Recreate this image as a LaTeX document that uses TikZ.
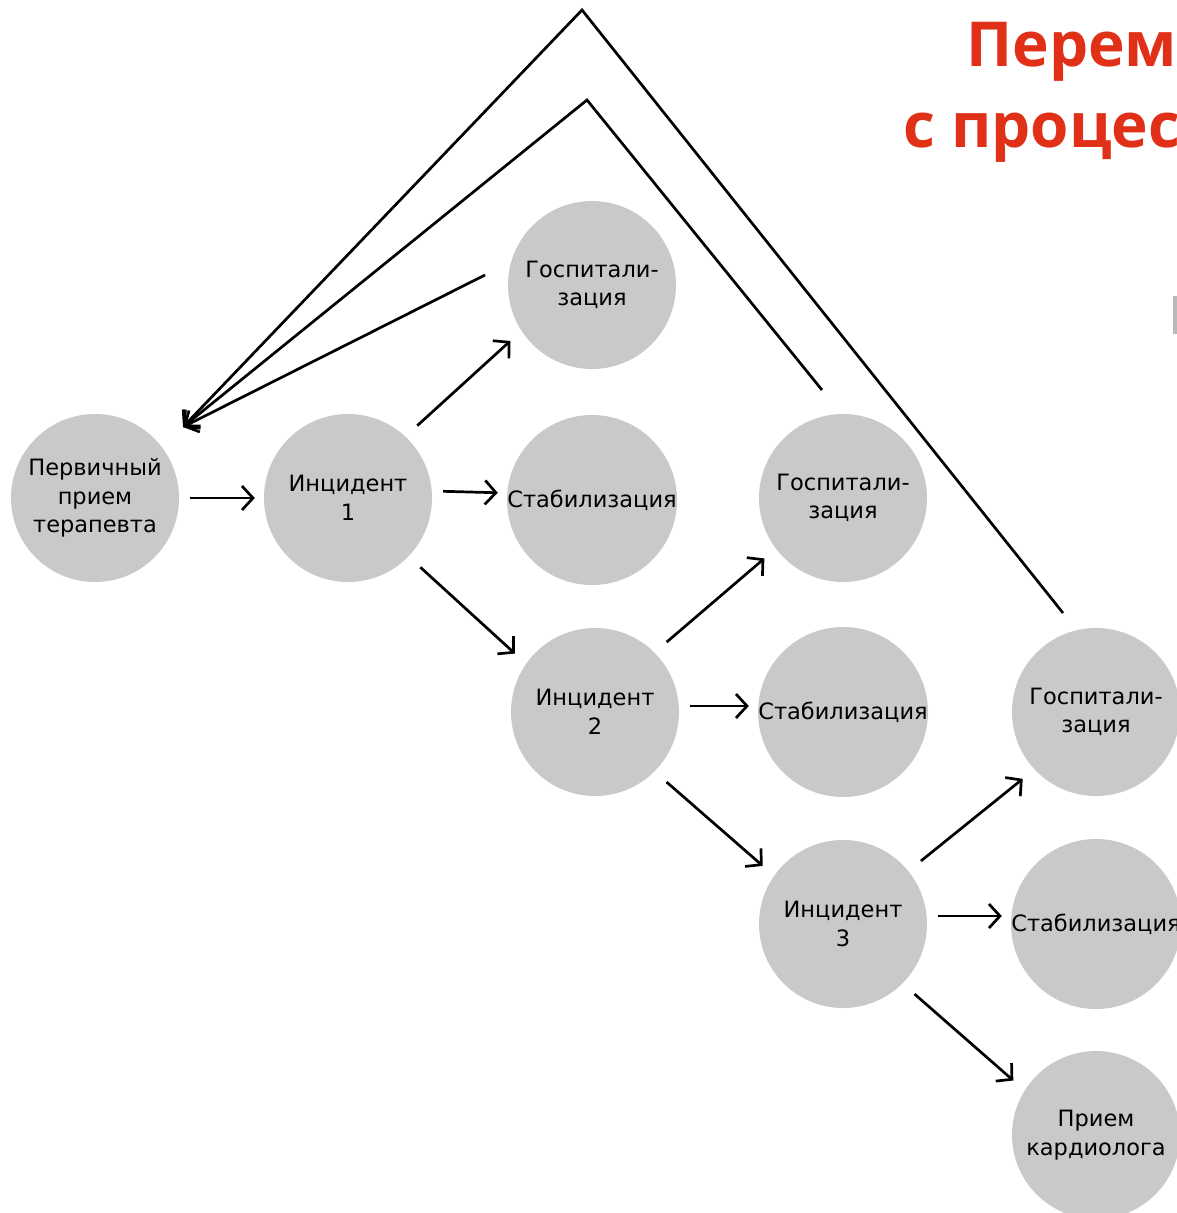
\documentclass[tikz,border=0pt]{standalone}
\usepackage{fontspec}
\setmainfont{DejaVu Sans}
\newfontfamily\titlefont{Open Sans}
\usepackage{tikz}
\usetikzlibrary{arrows.meta,positioning}
\definecolor{stagegray}{RGB}{201,201,201}
\definecolor{titlered}{RGB}{224,48,24}

\tikzset{
  stage/.style={circle, fill=stagegray, minimum size=168pt, inner sep=0pt,
    align=center, font=\fontsize{22.5}{28.5}\selectfont},
  flow/.style={line width=2.7pt, -{Straight Barb[length=11pt,width=24pt,line width=2.7pt]},
    shorten <=11pt, shorten >=9pt},
  slant/.style={flow, shorten <=16pt, shorten >=15pt},
  loopback/.style={line width=2.7pt, line join=miter,
    -{Straight Barb[length=11pt,width=24pt,line width=2.7pt]}}
}

\begin{document}
\begin{tikzpicture}[x=1pt,y=-1pt]
\useasboundingbox (0,0) rectangle (1177,1213);
\clip (0,0) rectangle (1177,1213);

% title (cut off at the page edge)
\node[anchor=base west, inner sep=0pt, text=titlered,
  font=\titlefont\bfseries\fontsize{62}{68}\selectfont] (title1) at (966,66) {Перем};
\node[anchor=base west, inner sep=0pt, text=titlered,
  font=\titlefont\bfseries\fontsize{62}{68}\selectfont] (title2) at (903,147) {с процес};
\fill[gray!55] (1173,296) rectangle (1177,334);

% stages
\node[stage] (p)  at (95,498)   {Первичный\\прием\\терапевта};
\node[stage] (i1) at (348,498)  {Инцидент\\1};
\node[stage] (h1) at (592,285)  {Госпитали-\\зация};
\node[stage] (s1) at (592,500)  {Стабилизация};
\node[stage] (h2) at (843,498)  {Госпитали-\\зация};
\node[stage] (i2) at (595,712)  {Инцидент\\2};
\node[stage] (s2) at (843,712)  {Стабилизация};
\node[stage] (i3) at (843,924)  {Инцидент\\3};
\node[stage] (h3) at (1096,712) {Госпитали-\\зация};
\node[stage] (s3) at (1096,924) {Стабилизация};
\node[stage] (c)  at (1096,1135) {Прием\\кардиолога};

% forward arrows
\draw[flow] (p) -- (i1);
\draw[slant] (i1.47) -- (h1.213);
\draw[flow] ([yshift=7pt]i1.east) -- ([yshift=7pt]s1.west);
\draw[slant] (i1.316) -- (i2.145);
\draw[slant] (i2.45) -- (h2.217);
\draw[flow] ([yshift=6pt]i2.east) -- ([yshift=6pt]s2.west);
\draw[slant] (i2.315) -- (i3.145);
\draw[slant] (i3.39) -- (h3.223);
\draw[flow] ([yshift=8pt]i3.east) -- ([yshift=8pt]s3.west);
\draw[slant] (i3.315) -- (c.148);

% back to the first visit
\coordinate (ret) at (183,427);
\coordinate (h1tail) at (485,275);
\coordinate (h2tail) at (822,390);
\coordinate (h3tail) at (1063,613);
\coordinate (peak2) at (587,100);
\coordinate (peak3) at (582,10);
\draw[loopback] (h1tail) -- (ret);
\draw[loopback] (h2tail) -- (peak2) -- (ret);
\draw[loopback] (h3tail) -- (peak3) -- (ret);
\end{tikzpicture}
\end{document}
